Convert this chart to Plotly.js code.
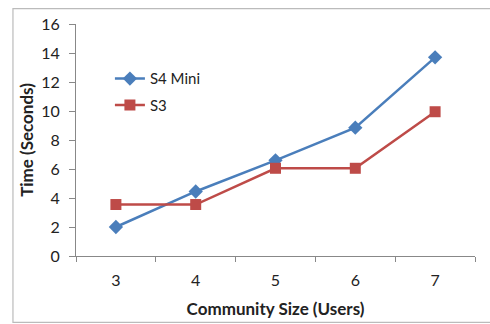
<!DOCTYPE html>
<html><head><meta charset="utf-8">
<script src="https://cdn.plot.ly/plotly-3.0.1.min.js"></script>
<style>body{margin:0;background:#fff}#c{width:490px;height:324px}</style>
</head><body><div id="c"></div>
<script>
var categories = ['3','4','5','6','7'];
var s4mini = [2.0, 4.45, 6.6, 8.85, 13.7];
var s3 = [3.55, 3.55, 6.05, 6.05, 9.95];
var yTicks = [0,2,4,6,8,10,12,14,16];

var traces = [
  {x: categories, y: s4mini, name: 'S4 Mini', type: 'scatter', mode: 'lines+markers',
   legendgroup: 'a',
   line: {color: '#4A7EBB', width: 2.5}, marker: {symbol: 'diamond', size: 11, color: '#4A7EBB'}},
  {x: categories, y: s3, name: 'S3', type: 'scatter', mode: 'lines+markers',
   legendgroup: 'b',
   line: {color: '#BE4B48', width: 2.5}, marker: {symbol: 'square', size: 11, color: '#BE4B48'}}
];
var layout = {
  width: 490, height: 324,
  margin: {l: 76, r: 15, t: 24, b: 68},
  paper_bgcolor: '#fff', plot_bgcolor: '#fff',
  font: {family: 'Lato, "Open Sans", sans-serif', size: 15, color: '#222'},
  showlegend: true,
  legend: {x: 0.085, y: 0.835, xanchor: 'left', yanchor: 'top', bgcolor: 'rgba(0,0,0,0)',
           traceorder: 'grouped', tracegroupgap: 4, font: {size: 15, color: '#222'}},
  xaxis: {type: 'category', range: [-0.5, 4.5], tickson: 'boundaries', ticks: 'outside', ticklen: 5,
          tickcolor: '#888', showline: true, linecolor: '#888', linewidth: 1, showgrid: false,
          zeroline: false, tickfont: {size: 16}, ticklabelstandoff: 10,
          title: {text: '<b>Community Size (Users)</b>', font: {size: 17}, standoff: 14}},
  yaxis: {range: [0, 16], tickvals: yTicks, ticks: 'outside', ticklen: 6, tickcolor: '#888',
          showline: true, linecolor: '#888', linewidth: 1, showgrid: false, zeroline: false,
          tickfont: {size: 16}, ticklabelstandoff: 6,
          title: {text: '<b>Time (Seconds)</b>', font: {size: 17}, standoff: 3}},
  shapes: [{type: 'rect', xref: 'paper', yref: 'paper', x0: -0.158, x1: 1.2, y0: -0.286, y1: 1.066,
            line: {color: '#bbb', width: 1.2}}]
};
Plotly.newPlot('c', traces, layout, {displayModeBar: false, staticPlot: true});
</script></body></html>
